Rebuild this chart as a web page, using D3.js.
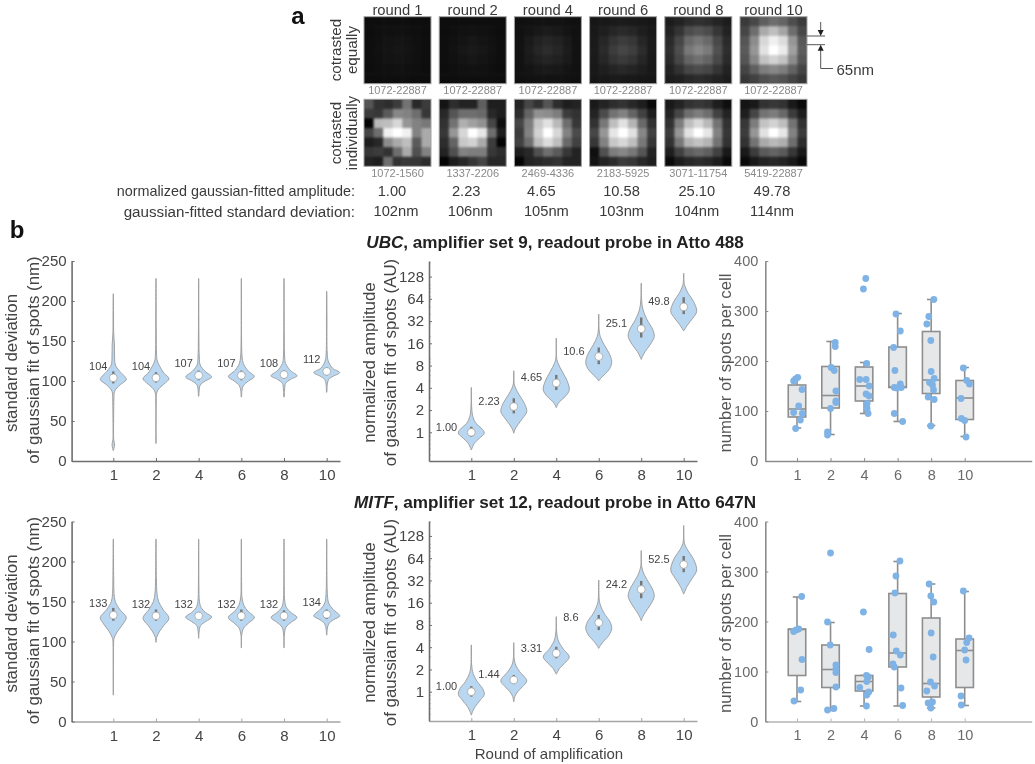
<!DOCTYPE html>
<html>
<head>
<meta charset="utf-8">
<script src="https://cdn.jsdelivr.net/npm/d3@7"></script>
<style>
html,body{margin:0;padding:0;background:#fff;}
svg{display:block;filter:blur(0.45px);}
text{font-family:"Liberation Sans",Arial,sans-serif;}
</style>
</head>
<body>
<svg id="chart" width="1035" height="764"></svg>
<script>
// ---------- data ----------
const rounds = ["1","2","4","6","8","10"];

// panel a: 7x7 grey levels, contrasted equally
const equalRound1 = [[13,13,14,14,14,13,13],[13,15,16,17,16,15,13],[14,16,19,20,19,16,14],[14,17,20,22,20,17,14],[14,16,19,20,19,16,14],[13,15,16,17,16,15,13],[13,13,14,14,14,13,13]];
const equalRound2 = [[13,13,14,14,14,13,13],[13,15,17,18,17,15,13],[14,17,20,23,20,17,14],[14,18,23,26,23,18,14],[14,17,20,23,20,17,14],[13,15,17,18,17,15,13],[13,13,14,14,14,13,13]];
const equalRound4 = [[16,17,18,18,18,17,16],[17,20,24,27,24,20,17],[18,26,34,38,34,26,18],[18,28,38,44,38,28,18],[18,26,32,36,32,26,18],[17,20,24,26,24,20,17],[16,17,18,18,18,17,16]];
const equalRound6 = [[22,24,26,27,26,24,22],[24,30,38,42,38,30,24],[26,38,52,60,54,38,26],[27,42,60,70,62,44,26],[26,38,52,58,52,38,25],[24,30,36,40,36,30,24],[22,24,26,26,25,23,22]];
const equalRound8 = [[28,34,44,48,44,36,28],[34,52,76,84,76,54,34],[42,70,105,118,105,72,42],[46,78,120,135,122,80,46],[42,70,100,112,100,72,42],[34,50,70,76,70,52,34],[28,32,40,44,40,34,28]];
const equalRound10 = [[58,72,95,110,100,78,60],[70,110,170,190,165,110,72],[85,140,215,240,220,150,88],[90,150,225,255,235,160,92],[85,135,195,210,195,140,85],[68,95,125,135,125,98,68],[55,65,80,88,82,68,55]];
// panel a: 7x7 grey levels, contrasted individually
const indivRound1 = [[85,50,45,60,115,40,60],[60,55,90,135,130,110,55],[5,185,190,215,150,130,120],[70,110,240,255,240,130,170],[30,40,140,170,190,90,170],[55,60,50,110,170,80,130],[35,30,110,50,55,55,45]];
const indivRound2 = [[20,45,35,35,95,30,30],[40,85,110,110,105,40,30],[50,115,175,160,145,70,15],[55,150,215,255,230,110,30],[45,100,200,210,170,60,5],[35,80,130,125,125,55,45],[5,30,40,55,70,40,40]];
const indivRound4 = [[35,70,50,85,45,30,35],[45,100,145,140,125,60,50],[70,125,200,225,185,110,55],[60,130,210,255,215,130,75],[65,110,190,220,190,105,65],[30,40,80,110,90,55,35],[5,35,40,45,50,35,35]];
const indivRound6 = [[25,35,45,50,40,30,10],[35,75,115,130,100,65,30],[50,120,190,225,180,105,50],[70,150,230,255,225,135,65],[55,130,200,215,190,120,55],[15,80,125,135,120,85,35],[20,35,45,60,55,40,30]];
const indivRound8 = [[25,35,50,55,50,30,15],[35,70,110,125,110,65,35],[50,125,190,215,185,115,50],[60,150,225,255,230,130,55],[50,120,180,195,180,115,50],[30,65,95,105,95,65,25],[10,30,40,45,40,30,10]];
const indivRound10 = [[20,25,50,55,50,25,10],[30,70,115,125,105,60,30],[55,125,195,210,190,115,50],[60,150,225,255,230,130,60],[50,115,170,185,175,110,45],[25,60,90,100,90,55,25],[10,25,35,40,35,25,10]];
const equalImages = [equalRound1,equalRound2,equalRound4,equalRound6,equalRound8,equalRound10];
const indivImages = [indivRound1,indivRound2,indivRound4,indivRound6,indivRound8,indivRound10];
const roundTitles = ["round 1","round 2","round 4","round 6","round 8","round 10"];
const equalRanges = ["1072-22887","1072-22887","1072-22887","1072-22887","1072-22887","1072-22887"];
const indivRanges = ["1072-1560","1337-2206","2469-4336","2183-5925","3071-11754","5419-22887"];
const amplitudeTexts = ["1.00","2.23","4.65","10.58","25.10","49.78"];
const deviationTexts = ["102nm","106nm","105nm","103nm","104nm","114nm"];

// violin outlines: [value, relative half width]
const ubcStdViolins = [
 [[209,.01],[180,.02],[160,.03],[145,.09],[130,.1],[120,.16],[112,.5],[102,1],[95,.5],[87,.1],[78,.05],[60,.03],[35,.02],[27,.03],[20,.1],[16,.05],[13,.01]],
 [[228,.01],[160,.02],[135,.04],[125,.1],[118,.3],[110,.6],[103,1],[96,.6],[90,.2],[85,.05],[75,.02],[22,.01]],
 [[228,.01],[155,.02],[130,.05],[120,.12],[112,.5],[105,1],[100,.5],[95,.12],[90,.05],[81,.02]],
 [[228,.01],[150,.02],[130,.06],[122,.15],[113,.5],[105.5,1],[100,.55],[94,.15],[88,.05],[80,.02]],
 [[228,.01],[155,.02],[130,.05],[122,.12],[113,.5],[106.5,1],[102,.5],[97,.12],[90,.05],[80,.02]],
 [[212,.01],[180,.02],[135,.04],[125,.12],[116,.45],[110.5,1],[106,.5],[102,.15],[96,.05],[86,.02]]
];
const mitfStdViolins = [
 [[228,.01],[180,.03],[160,.06],[150,.15],[140,.5],[130,1],[122,.75],[112,.3],[104,.06],[95,.02],[33,.01]],
 [[228,.01],[180,.03],[160,.08],[150,.2],[140,.55],[129,1],[120,.6],[112,.25],[105,.05],[99,.01]],
 [[228,.01],[170,.02],[150,.06],[142,.2],[136,.55],[130.5,1],[125,.55],[120,.15],[113,.04],[104,.01]],
 [[228,.01],[175,.02],[155,.05],[145,.2],[138,.5],[130,1],[123,.55],[117,.18],[108,.03],[92,.01]],
 [[228,.01],[170,.02],[150,.06],[142,.2],[136,.55],[130,1],[124,.55],[118,.15],[108,.03],[92,.01]],
 [[228,.01],[180,.02],[160,.05],[148,.15],[140,.5],[132,1],[127,.5],[122,.15],[115,.04],[108,.01]]
];
// amplitude outlines: [log2(AU), relative half width]
const ubcAmpViolins = [
 [[2.01,.01],[1.23,.02],[.70,.12],[.40,.36],[.18,.78],[-.03,1],[-.27,.62],[-.49,.24],[-.79,.01]],
 [[2.76,.01],[2.20,.03],[1.98,.14],[1.68,.42],[1.30,.82],[.93,1],[.63,.68],[.33,.3],[.10,.07],[-.04,.01]],
 [[4.23,.01],[3.33,.03],[3.10,.14],[2.73,.46],[2.28,.86],[1.90,1],[1.60,.68],[1.38,.26],[1.23,.09],[1.11,.01]],
 [[5.31,.01],[4.60,.03],[4.30,.12],[3.93,.42],[3.55,.8],[3.18,1],[2.88,.86],[2.58,.42],[2.43,.15],[2.32,.02]],
 [[6.70,.01],[5.95,.03],[5.50,.14],[5.05,.46],[4.60,.9],[4.30,1],[3.93,.68],[3.63,.3],[3.40,.09],[3.28,.01]],
 [[7.15,.01],[6.63,.06],[6.25,.34],[5.88,.76],[5.43,1],[5.13,.7],[4.83,.3],[4.57,.02]]
];
const mitfAmpViolins = [
 [[2.10,.01],[1.20,.03],[.82,.14],[.45,.46],[.15,.86],[-.12,1],[-.37,.7],[-.67,.3],[-.90,.09],[-1.05,.01]],
 [[2.20,.01],[1.50,.03],[1.20,.14],[.90,.46],[.49,1],[.22,.66],[0,.3],[-.22,.08],[-.45,.01]],
 [[3.37,.01],[2.70,.03],[2.32,.14],[1.95,.5],[1.56,1],[1.27,.62],[1.05,.25],[.79,.01]],
 [[5.02,.01],[4.20,.03],[3.90,.12],[3.52,.42],[3.15,.86],[2.85,1],[2.55,.8],[2.25,.35],[2.07,.12],[1.95,.01]],
 [[6.34,.01],[5.62,.04],[5.25,.24],[4.87,.62],[4.57,.9],[4.27,1],[3.90,.7],[3.60,.35],[3.33,.09],[3.19,.01]],
 [[7.47,.01],[6.67,.06],[6.37,.3],[6.0,.72],[5.47,1],[5.10,.66],[4.72,.25],[4.39,.01]]
];
// medians (as labelled) and interquartile ranges
const ubcStdMedians = [104,104,107,107,108,112];
const mitfStdMedians = [133,132,132,132,132,134];
const ubcAmpMedians = ["1.00","2.23","4.65","10.6","25.1","49.8"];
const mitfAmpMedians = ["1.00","1.44","3.31","8.6","24.2","52.5"];
const ubcStdIqr = [[97,112],[98,111],[101,113],[101,113],[103,113],[107,117]];
const mitfStdIqr = [[126,142],[126,140],[128,137],[126,140],[126,139],[128,140]];
const ubcAmpIqr = [[-.2,.25],[.85,1.53],[1.90,2.58],[3.06,3.81],[4.26,5.16],[5.31,6.07]];
const mitfAmpIqr = [[-.22,.25],[.34,.75],[1.50,2.02],[2.77,3.45],[4.20,4.98],[5.37,6.10]];

// box plots: [low whisker, q1, median, q3, high whisker]
const ubcBoxes = [[66,88,104,152,167],[53,106,131,189,239],[95,120,150,188,197],[79,147,148,228,295],[71,135,162,259,323],[49,83,126,161,187]];
const mitfBoxes = [[40,92,184,185,249],[22,68,104,153,198],[31,61,80,92,92],[31,109,137,256,320],[27,49,76,207,275],[32,68,142,165,260]];
// spots per cell: [jitter in rounds, count]
const ubcDots = [
 [[-.1,160],[-.04,164],[.02,167],[.15,143],[.05,110],[-.1,97],[.16,95],[.1,82],[-.04,65]],
 [[.14,237],[.14,229],[.02,187],[.11,181],[.16,140],[.16,120],[.16,117],[0,105],[-.09,58],[-.09,52]],
 [[.05,365],[-.02,344],[.08,195],[-.13,163],[.06,163],[.15,150],[.06,134],[.15,130],[.09,115],[.09,105],[.12,95]],
 [[-.05,294],[.08,260],[-.12,227],[-.08,181],[.08,154],[-.1,147],[-.02,146],[.11,147],[-.1,95],[.15,79]],
 [[.08,323],[-.07,289],[-.13,274],[-.01,241],[0,179],[.09,165],[-.05,157],[.04,152],[.07,142],[-.09,128],[.09,123],[-.01,70]],
 [[-.04,186],[.06,161],[.14,154],[-.11,125],[-.1,85],[0,81],[.04,48]]
];
const mitfDots = [
 [[.14,250],[-.1,180],[-.03,183],[.05,185],[.15,124],[.11,63],[-.09,41]],
 [[0,337],[-.09,199],[-.01,153],[.16,113],[.16,105],[.16,98],[.16,69],[.1,26],[-.09,23]],
 [[-.02,219],[.15,144],[.07,92],[.13,89],[.08,80],[-.13,68],[.14,59],[.08,53],[.07,31]],
 [[.07,321],[-.05,291],[-.08,257],[-.13,173],[-.04,141],[.08,133],[-.14,115],[-.1,109],[.1,67],[.15,32]],
 [[-.06,275],[-.01,251],[.08,239],[0,177],[.06,129],[-.02,79],[.1,71],[-.13,61],[-.09,37],[.04,39],[-.01,27]],
 [[-.04,261],[.13,167],[.06,158],[0,143],[.04,123],[-.11,51],[-.1,33]]
];
const stdTicks = [0,50,100,150,200,250];
const ampTicks = [1,2,4,8,16,32,64,128];
const ampMinorTicks = [.5,.6,.7,.8,.9,3,5,6,7,9,10,20,30,40,50,60,70,80,90,100,200];
const boxTicks = [0,100,200,300,400];

// ---------- drawing ----------
const svg = d3.select("#chart");
const INK = "#3a3a3a", AXIS = "#6e6e6e", BLUE = "#b9d7f1", GREY = "#9a9a9a";
function T(x,y,s,o={}){
  const t = svg.append("text").attr("x",x).attr("y",y)
    .attr("font-size",o.size||14.5).attr("fill",o.fill||INK)
    .attr("text-anchor",o.anchor||"middle").attr("dominant-baseline","central");
  if(o.weight) t.attr("font-weight",o.weight);
  if(o.rot) t.attr("transform",`rotate(-90 ${x} ${y})`);
  t.text(s);
  return t;
}

// panel a
const imgX = d3.scaleLinear().domain([0,5]).range([364,740]);
const IMG = 67;
const grey = d3.scaleLinear().domain([0,255]).range(["#000","#fff"]);
const defs = svg.append("defs");
defs.append("clipPath").attr("id","imgClip").append("rect").attr("width",IMG).attr("height",IMG);
function drawImage(m,x0,y0){
  const b = d3.scaleBand().domain(d3.range(7)).range([0,IMG]);
  const g = svg.append("g").attr("transform",`translate(${x0},${y0})`);
  const inner = g.append("g").attr("clip-path","url(#imgClip)").append("g").style("filter","blur(0.9px)");
  m.forEach((row,r)=>row.forEach((v,c)=>{
    inner.append("rect").attr("x",b(c)-(c===0?3:0)).attr("y",b(r)-(r===0?3:0))
      .attr("width",b.bandwidth()+.6+(c===0||c===6?3:0)).attr("height",b.bandwidth()+.6+(r===0||r===6?3:0)).attr("fill",grey(v));
  }));
  g.append("rect").attr("width",IMG).attr("height",IMG).attr("fill","none").attr("stroke","#a2a2a2").attr("stroke-width",1);
}
const valueNudge = [-5.5,-6.5,-6.5,-1.5,-1.5,-1.5];
const devNudge = [-1.5,-2.5,-1.5,-1.5,-1.5,-1.5];
rounds.forEach((_,i)=>{
  const x0 = imgX(i), cx = x0+IMG/2;
  T(cx,9.5,roundTitles[i],{size:14.8});
  drawImage(equalImages[i],x0,16.7);
  drawImage(indivImages[i],x0,99.3);
  T(cx,89.5,equalRanges[i],{size:11,fill:"#8a8a8a"});
  T(cx,172.7,indivRanges[i],{size:11,fill:"#8a8a8a"});
  T(cx+valueNudge[i],190.7,amplitudeTexts[i],{size:14.7});
  T(cx+devNudge[i],211,deviationTexts[i],{size:14.7});
});
T(298,15,"a",{size:24,weight:"bold",fill:"#111"});
T(17,229,"b",{size:24,weight:"bold",fill:"#111"});
T(335,50,"cotrasted",{rot:1,size:15.2});
T(351,50,"equally",{rot:1,size:15.2});
T(335,133,"cotrasted",{rot:1,size:15.2});
T(351,133,"individually",{rot:1,size:15.2});
T(355,190.7,"normalized gaussian-fitted amplitude:",{anchor:"end",size:14.4});
T(355,211,"gaussian-fitted standard deviation:",{anchor:"end",size:15.2});
// pixel size callout
const ann = svg.append("g").attr("stroke","#555").attr("fill","none").attr("stroke-width",1);
ann.append("path").attr("d","M807,36H825M807,44.7H825");
ann.append("path").attr("d","M820.7,22V32M820.7,49V68.5H833");
svg.append("path").attr("d","M817.7,30L823.7,30L820.7,36ZM817.7,50.7L823.7,50.7L820.7,44.7Z").attr("fill","#222");
T(836.5,69,"65nm",{anchor:"start",size:15});

function xScale(c0,c5,a,b){
  const s = d3.scaleLinear().domain([0,5]).range([c0,c5]);
  return d3.scaleLinear().domain([s.invert(a),s.invert(b)]).range([a,b]);
}
function axes(x,y,y0,left,tickVals,fmt,color,xColor,size,pad){
  const gx = svg.append("g").attr("transform",`translate(0,${y0})`)
    .call(d3.axisBottom(x).tickValues(d3.range(6)).tickFormat(i=>rounds[i]).tickSizeInner(-3).tickSizeOuter(0).tickPadding(8.5));
  const gy = svg.append("g").attr("transform",`translate(${left},0)`)
    .call(d3.axisLeft(y).tickValues(tickVals).tickFormat(fmt).tickSizeInner(-3).tickSizeOuter(0).tickPadding(pad));
  [gx,gy].forEach((g,i)=>{
    const c = i===0?xColor:color;
    g.selectAll("path").attr("stroke",c).attr("stroke-width",i===0?1.3:1.6);
    g.selectAll("line").attr("stroke",c).attr("stroke-width",1);
    g.selectAll("text").attr("font-family",'"Liberation Sans",Arial,sans-serif').attr("font-size",size).attr("fill",color==="#8c8c8c"?"#6a6a6a":"#444");
  });
}
function violin(x,yf,i,knots,half){
  const w = d3.scaleLinear().domain([0,1]).range([0,half]);
  const pts = knots.slice().sort((a,b)=>a[0]-b[0]);
  const area = d3.area().curve(d3.curveCatmullRom.alpha(.5))
    .y(d=>yf(d[0])).x0(d=>x(i)-w(d[1])).x1(d=>x(i)+w(d[1]));
  svg.append("path").attr("d",area(pts)).attr("fill",BLUE).attr("stroke",GREY).attr("stroke-width",.9);
}
function drawStd(y0,knots,medians,iqr){
  const x = xScale(113.3,326.7,71.6,340);
  const y = d3.scaleLinear().domain([0,250]).range([y0,y0-200]);
  axes(x,y,y0,71.6,stdTicks,d3.format("d"),AXIS,y0>500?"#a5a5a5":AXIS,15,5);
  knots.forEach((k,i)=>violin(x,y,i,k,13));
  medians.forEach((m,i)=>{
    svg.append("line").attr("x1",x(i)).attr("x2",x(i)).attr("y1",y(iqr[i][0])).attr("y2",y(iqr[i][1])).attr("stroke","#777").attr("stroke-width",2.4);
    svg.append("circle").attr("cx",x(i)).attr("cy",y(m)).attr("r",3.9).attr("fill","#fff").attr("stroke","#9a9a9a").attr("stroke-width",.7);
    T(x(i)-15,y(m)-12,m,{size:11,fill:"#444"});
  });
  T(11,y0-98,"standard deviation",{rot:1,size:16.9,fill:"#444"});
  T(33,y0-101,"of gaussian fit of spots (nm)",{rot:1,size:16.9,fill:"#444"});
}
function drawAmp(y0,y1,knots,medians,iqr){
  const x = xScale(471.3,683.7,429,697);
  const y = d3.scaleLog().base(2).domain([Math.pow(2,(y1-y0)/22.25),Math.pow(2,(y1-(y0-200))/22.25)]).range([y0,y0-200]);
  const yl = e=>y(Math.pow(2,e));
  axes(x,y,y0,429,ampTicks,d3.format("d"),AXIS,y0>500?"#a5a5a5":AXIS,15,5);
  svg.append("g").attr("transform","translate(429,0)")
    .call(d3.axisLeft(y).tickValues(ampMinorTicks).tickFormat("").tickSizeInner(-1.6).tickSizeOuter(0))
    .call(g=>g.select(".domain").remove())
    .selectAll("line").attr("stroke",AXIS).attr("stroke-width",.7);
  knots.forEach((k,i)=>violin(x,yl,i,k,13));
  medians.forEach((m,i)=>{
    const v = +m;
    svg.append("line").attr("x1",x(i)).attr("x2",x(i)).attr("y1",yl(iqr[i][0])).attr("y2",yl(iqr[i][1])).attr("stroke","#777").attr("stroke-width",2.4);
    svg.append("circle").attr("cx",x(i)).attr("cy",y(v)).attr("r",3.9).attr("fill","#fff").attr("stroke","#9a9a9a").attr("stroke-width",.7);
    T(x(i)-35.5,y(v)-5.5,m,{size:11,fill:"#444",anchor:"start"});
  });
  T(369,y0-98.5,"normalized amplitude",{rot:1,size:16.9,fill:"#444"});
  T(390,y0-98.5,"of gaussian fit of spots (AU)",{rot:1,size:16.9,fill:"#444"});
}
function drawBox(y0,boxes,dots){
  const x = xScale(797,964.7,765.3,1031.7);
  const y = d3.scaleLinear().domain([0,400]).range([y0,y0-200]);
  axes(x,y,y0,765.3,boxTicks,d3.format("d"),"#8c8c8c",y0>500?"#b5b5b5":"#8c8c8c",14.5,7);
  const bw = 17.5, cap = 4.2;
  boxes.forEach((b,i)=>{
    const cx = x(i);
    const g = svg.append("g").attr("stroke","#8e8e8e").attr("stroke-width",1.6).attr("fill","none");
    g.append("line").attr("x1",cx).attr("x2",cx).attr("y1",y(b[0])).attr("y2",y(b[4]));
    g.append("line").attr("x1",cx-cap).attr("x2",cx+cap).attr("y1",y(b[0])).attr("y2",y(b[0]));
    g.append("line").attr("x1",cx-cap).attr("x2",cx+cap).attr("y1",y(b[4])).attr("y2",y(b[4]));
    g.append("rect").attr("x",cx-bw/2).attr("width",bw).attr("y",y(b[3])).attr("height",y(b[1])-y(b[3])).attr("fill","#e6e7e8");
    g.append("line").attr("x1",cx-bw/2).attr("x2",cx+bw/2).attr("y1",y(b[2])).attr("y2",y(b[2]));
  });
  dots.forEach((ds,i)=>ds.forEach(d=>{
    svg.append("circle").attr("cx",x(i+d[0])).attr("cy",y(d[1])).attr("r",3.4).attr("fill","#7fb3e6");
  }));
  T(725,y0-98,"number of spots per cell",{rot:1,size:16.8,fill:"#555"});
}
function title(y,gene,rest){
  const t = svg.append("text").attr("x",555).attr("y",y).attr("text-anchor","middle").attr("dominant-baseline","central")
    .attr("font-size",17.1).attr("font-weight","bold").attr("fill","#222");
  t.append("tspan").attr("font-style","italic").text(gene);
  t.append("tspan").text(rest);
}
title(242,"UBC",", amplifier set 9, readout probe in Atto 488");
title(502,"MITF",", amplifier set 12, readout probe in Atto 647N");
drawStd(461,ubcStdViolins,ubcStdMedians,ubcStdIqr);
drawStd(721.5,mitfStdViolins,mitfStdMedians,mitfStdIqr);
drawAmp(461,432.3,ubcAmpViolins,ubcAmpMedians,ubcAmpIqr);
drawAmp(721,691.7,mitfAmpViolins,mitfAmpMedians,mitfAmpIqr);
drawBox(461,ubcBoxes,ubcDots);
drawBox(721.5,mitfBoxes,mitfDots);
T(549,753,"Round of amplification",{size:15,fill:"#444"});
</script>
</body>
</html>
